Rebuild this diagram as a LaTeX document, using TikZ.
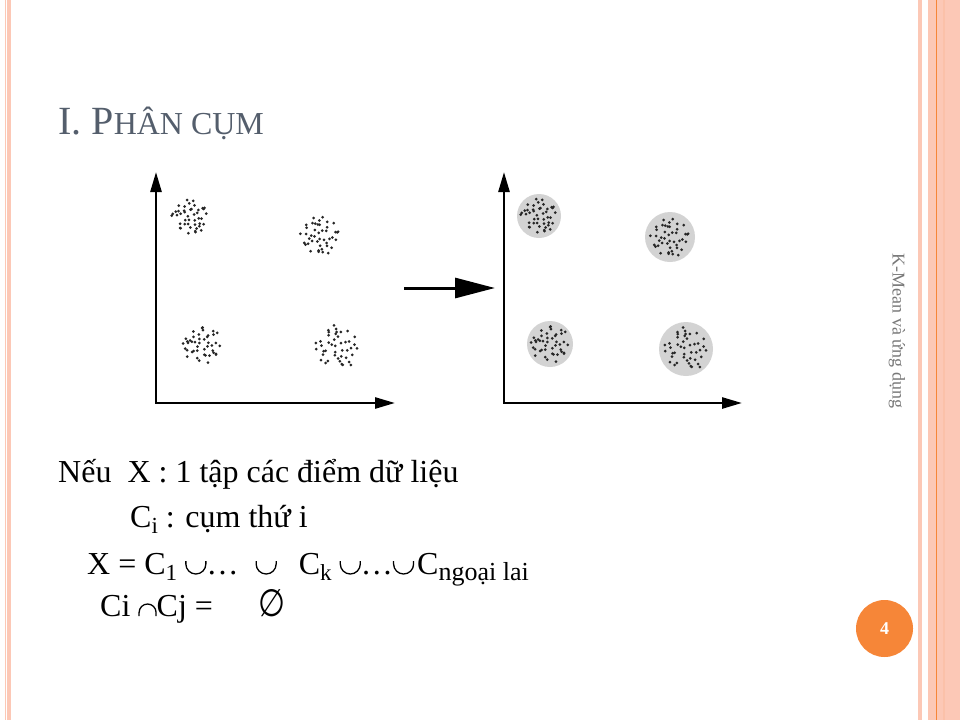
\RequirePackage{fix-cm}
\documentclass[tikz,border=0pt]{standalone}
\usepackage{fontspec}
\setmainfont{Liberation Serif}
\newfontfamily\symfam{DejaVu Sans}
\usetikzlibrary{arrows.meta,positioning}
\definecolor{Salmon}{RGB}{252,200,182}
\definecolor{Tangerine}{RGB}{246,134,56}
\definecolor{Slate}{RGB}{84,94,108}
\definecolor{Blob}{RGB}{211,211,211}
\definecolor{Side}{RGB}{120,120,120}
\newcommand{\lowidx}[1]{\raisebox{-6pt}{\fontsize{23}{23}\selectfont #1}}
\newcommand{\wideidx}[1]{\raisebox{-6pt}{\fontsize{26}{26}\selectfont #1}}
\newcommand{\smcap}[1]{{\fontsize{32}{32}\selectfont #1}}
\newcommand{\cupsym}{\tikz[baseline=0pt,x=1pt,y=1pt]
  \draw[line width=1.3pt] (0,13) -- (0,10) arc[start angle=180,end angle=360,radius=10] -- (20,13);}
\newcommand{\capsym}{\tikz[baseline=0pt,x=1pt,y=1pt]
  \draw[line width=1.3pt] (0,0) -- (0,3.5) arc[start angle=180,end angle=0,radius=8.5] -- (17,0);}
\newcommand{\nullset}{\resizebox{27pt}{27pt}{\symfam ∅}}
% dot cloud: x, y, radius, seed
\newcommand{\dotcloud}[4]{%
  \pgfmathsetseed{#4}
  \foreach \k in {1,...,44}{
    \pgfmathsetmacro{\ang}{\k*137.508+25*rand}
    \pgfmathsetmacro{\dst}{#3*sqrt((\k-0.5)/44)}
    \fill[black!85] (#1,#2) ++(\ang:\dst pt) ++(1.2*rand,1.2*rand) circle (1.5pt);
  }}
\tikzset{
  panelaxis/.style={line width=2.6pt,
    {Triangle[length=20pt,width=11pt]}-{Triangle[length=20pt,width=11pt]}},
  bigarrow/.style={line width=3pt,-{Triangle[length=40pt,width=20pt]}},
  blob/.style={circle,fill=Blob,inner sep=0pt},
  body/.style={anchor=base west,inner sep=0pt,font=\fontsize{32}{38}\selectfont},
  titletext/.style={anchor=base west,inner sep=0pt,text=Slate,
    font=\fontsize{40}{46}\selectfont},
  sidetext/.style={rotate=-90,inner sep=0pt,text=Side,font=\fontsize{18}{20}\selectfont},
  pagenum/.style={circle,fill=Tangerine,minimum size=57pt,inner sep=0pt,
    text=white,font=\fontsize{18}{20}\selectfont\bfseries},
}

\begin{document}
\begin{tikzpicture}[x=1pt,y=-1pt]
  \useasboundingbox (0,0) rectangle (960,720);

  % side bands
  \fill[Salmon] (5,0) rectangle (11,720);
  \fill[white] (6.3,0) rectangle (7.3,720);
  \fill[Salmon] (918,0) rectangle (922,720);
  \fill[Salmon] (928,0) rectangle (960,720);
  \fill[Salmon!90!Tangerine] (943,0) rectangle (945,720);
  \draw[Tangerine,line width=1pt] (936,0) -- (936,720);

  \node[titletext] (title) at (58,134) {I. P\smcap{HÂN CỤM}};

  % raw data
  \coordinate (ytopA) at (156,172);
  \coordinate (xendA) at (395,403);
  \draw[panelaxis] (ytopA) |- (xendA);
  \dotcloud{190}{217}{18}{11}
  \dotcloud{320}{235}{20}{22}
  \dotcloud{202}{345}{19}{33}
  \dotcloud{337}{347}{22}{44}

  \coordinate (arrS) at (404,288);
  \coordinate (arrE) at (495,288);
  \draw[bigarrow] (arrS) -- (arrE);

  % clustered data
  \coordinate (ytopB) at (504,172);
  \coordinate (xendB) at (742,403);
  \draw[panelaxis] (ytopB) |- (xendB);
  \node[blob,minimum size=44pt] (g1) at (539,216) {};
  \node[blob,minimum size=50pt] (g2) at (670,237) {};
  \node[blob,minimum size=46pt] (g3) at (550,344) {};
  \node[blob,minimum size=54pt] (g4) at (686,349) {};
  \dotcloud{539}{216}{18}{11}
  \dotcloud{670}{237}{20}{22}
  \dotcloud{550}{344}{19}{33}
  \dotcloud{686}{349}{22}{44}

  \node[body] (l1) at (58,482) {Nếu\ \ X : 1 tập các điểm dữ liệu};
  \node[body] (l2) at (130,527) {C\lowidx{i} : cụm thứ i};
  \node[body] (l3) at (87,574)
    {X = C\lowidx{1} \cupsym…\hspace{17pt}\cupsym\hspace{22pt}C\lowidx{k}
     \cupsym…\cupsym\hspace{3pt}C\wideidx{ngoại lai}};
  \node[body] (l4) at (100,616) {Ci \capsym Cj =\hspace{45pt}\nullset};

  \node[sidetext] (side) at (897,331) {K-Mean và ứng dụng};
  \node[pagenum] (pg) at (884.5,628.5) {4};
\end{tikzpicture}
\end{document}
